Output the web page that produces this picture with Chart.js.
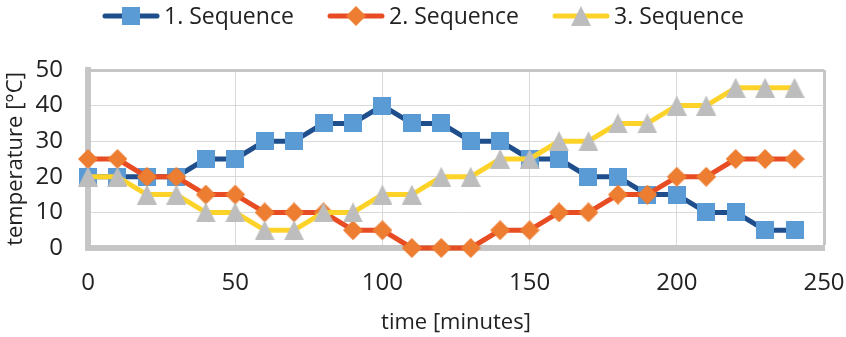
<!DOCTYPE html>
<html>
<head>
<meta charset="utf-8">
<script src="https://cdn.jsdelivr.net/npm/chart.js@4/dist/chart.umd.min.js"></script>
<style>
  html, body { margin: 0; padding: 0; background: #fff; }
  #wrap { width: 846px; height: 337px; }
</style>
</head>
<body>
<div id="wrap"><canvas id="chart"></canvas></div>
<script>
// time in minutes, one reading every 10 minutes
const minutes = [0, 10, 20, 30, 40, 50, 60, 70, 80, 90, 100, 110, 120, 130, 140, 150, 160, 170, 180, 190, 200, 210, 220, 230, 240];
const seq1 = [20, 20, 20, 20, 25, 25, 30, 30, 35, 35, 40, 35, 35, 30, 30, 25, 25, 20, 20, 15, 15, 10, 10, 5, 5];
const seq2 = [25, 25, 20, 20, 15, 15, 10, 10, 10, 5, 5, 0, 0, 0, 5, 5, 10, 10, 15, 15, 20, 20, 25, 25, 25];
const seq3 = [20, 20, 15, 15, 10, 10, 5, 5, 10, 10, 15, 15, 20, 20, 25, 25, 30, 30, 35, 35, 40, 40, 45, 45, 45];
const seriesNames = ['1. Sequence', '2. Sequence', '3. Sequence'];
const xTicks = [0, 50, 100, 150, 200, 250];
const yTicks = [0, 10, 20, 30, 40, 50];

const FONT = "'Open Sans', sans-serif";
const gridColor = '#d9d9d9';
const frameColor = '#c6c6c6';

// marker images, drawn centred on the point by Chart.js
function marker(kind, color) {
  const c = document.createElement('canvas');
  const g = c.getContext('2d');
  if (kind === 'square') {
    c.width = 18; c.height = 18;
    g.fillStyle = color;
    g.fillRect(0, 0, 18, 18);
  } else if (kind === 'diamond') {
    c.width = 20; c.height = 20;
    g.fillStyle = color;
    g.beginPath();
    g.moveTo(10, 0); g.lineTo(20, 10); g.lineTo(10, 20); g.lineTo(0, 10);
    g.closePath(); g.fill();
  } else {
    c.width = 20; c.height = 20;
    g.fillStyle = color;
    g.beginPath();
    g.moveTo(10, 0); g.lineTo(20, 20); g.lineTo(0, 20);
    g.closePath(); g.fill();
  }
  return c;
}

function pairs(values) {
  return values.map((v, i) => ({ x: minutes[i], y: v }));
}

// legend drawn as line + marker, like the office chart
const lineLegend = {
  id: 'lineLegend',
  afterDraw(chart) {
    const ctx = chart.ctx;
    const starts = [103, 328, 553];
    ctx.save();
    chart.data.datasets.forEach((ds, i) => {
      const x0 = starts[i], y = 16;
      ctx.strokeStyle = ds.borderColor;
      ctx.lineWidth = 5;
      ctx.lineCap = 'round';
      ctx.beginPath();
      ctx.moveTo(x0 + 2, y);
      ctx.lineTo(x0 + 54, y);
      ctx.stroke();
      const img = ds.pointStyle;
      ctx.drawImage(img, x0 + 28 - img.width / 2, y - img.height / 2);
      ctx.fillStyle = '#222';
      ctx.font = '23px ' + FONT;
      ctx.textAlign = 'left';
      ctx.textBaseline = 'middle';
      ctx.fillText(ds.label, x0 + 61, y + 1);
    });
    ctx.restore();
  }
};

const edgeWidth = (ctx, edge) => (ctx.tick && ctx.tick.value === edge ? 3 : 1);
const edgeColor = (ctx, edge) => (ctx.tick && ctx.tick.value === edge ? frameColor : gridColor);

new Chart(document.getElementById('chart'), {
  type: 'line',
  data: {
    datasets: [
      {
        label: seriesNames[0], data: pairs(seq1), order: 2,
        borderColor: '#1f4e8c', borderWidth: 5,
        pointStyle: marker('square', '#5b9bd5'), pointRadius: 9
      },
      {
        label: seriesNames[1], data: pairs(seq2), order: 1,
        borderColor: '#e84c22', borderWidth: 5,
        pointStyle: marker('diamond', '#ed7d31'), pointRadius: 10
      },
      {
        label: seriesNames[2], data: pairs(seq3), order: 0,
        borderColor: '#fdd32a', borderWidth: 5,
        pointStyle: marker('triangle', '#bdbdbd'), pointRadius: 10
      }
    ]
  },
  options: {
    responsive: true,
    maintainAspectRatio: false,
    animation: false,
    events: [],
    clip: false,
    layout: { padding: { top: 70, right: 0, left: 0, bottom: 0 } },
    elements: { line: { tension: 0, borderJoinStyle: 'round' } },
    plugins: { legend: { display: false }, tooltip: { enabled: false } },
    scales: {
      x: {
        type: 'linear', min: 0, max: 250,
        afterBuildTicks: (s) => { s.ticks = xTicks.map(v => ({ value: v })); },
        afterFit: (s) => { s.height = 89; s.paddingLeft = 0; s.paddingRight = 22; },
        grid: {
          drawTicks: false,
          color: (c) => edgeColor(c, 250),
          lineWidth: (c) => edgeWidth(c, 250)
        },
        border: { color: frameColor, width: 6 },
        ticks: { padding: 21, color: '#222', font: { family: FONT, size: 24 } },
        title: {
          display: true, text: 'time [minutes]', color: '#222',
          font: { family: FONT, size: 22 }, padding: { top: 0, bottom: 1 }
        }
      },
      y: {
        min: 0, max: 50,
        afterBuildTicks: (s) => { s.ticks = yTicks.map(v => ({ value: v })); },
        afterFit: (s) => { s.width = 88; s.paddingTop = 0; s.paddingBottom = 0; },
        grid: {
          drawTicks: false,
          color: (c) => edgeColor(c, 50),
          lineWidth: (c) => edgeWidth(c, 50)
        },
        border: { color: frameColor, width: 6 },
        ticks: { padding: 25, color: '#222', font: { family: FONT, size: 24 } },
        title: {
          display: true, text: 'temperature [°C]', color: '#222',
          font: { family: FONT, size: 22 }, padding: { top: 3, bottom: 0 }
        }
      }
    }
  },
  plugins: [lineLegend]
});
</script>
</body>
</html>
